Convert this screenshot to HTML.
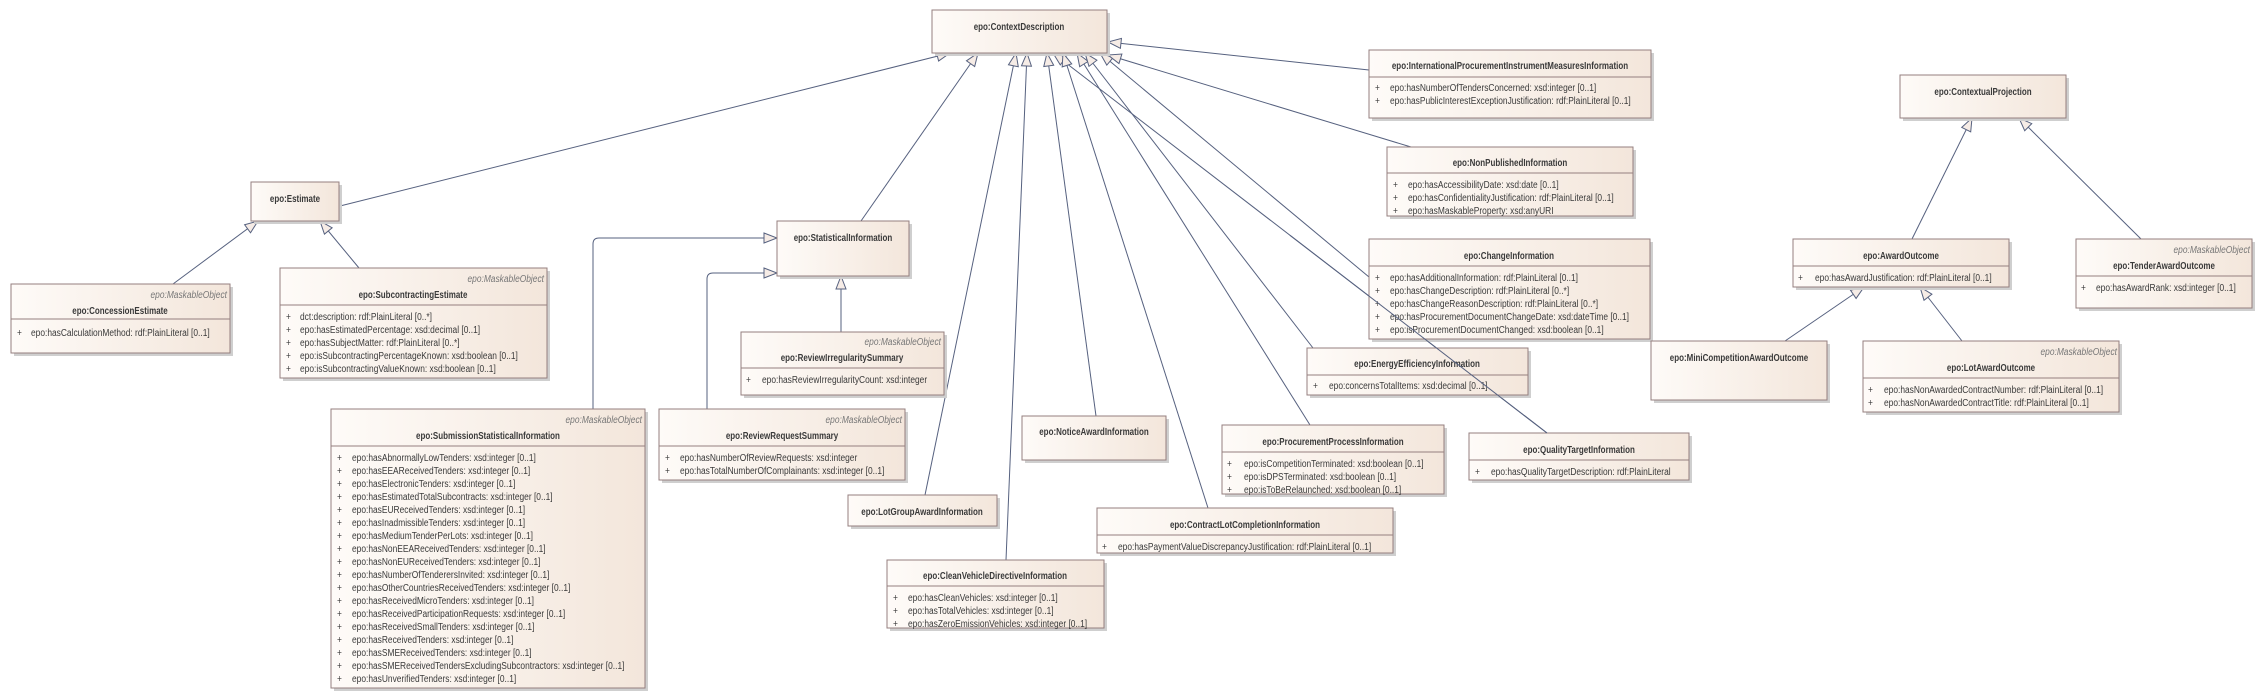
<!DOCTYPE html>
<html><head><meta charset="utf-8"><style>
html,body{margin:0;padding:0;background:#fff;}
svg{display:block;}
.n{font-family:"Liberation Sans",sans-serif;font-size:10px;font-weight:bold;fill:#3a3a3a;text-anchor:middle;}
.a{font-family:"Liberation Sans",sans-serif;font-size:10.5px;fill:#3a3a3a;}
.s{font-family:"Liberation Sans",sans-serif;font-size:10.5px;font-style:italic;fill:#777;text-anchor:end;}
.b{fill:url(#g);stroke:#957f7f;stroke-width:1;}
.sh{fill:#cfcfcf;}
.d{stroke:#957f7f;stroke-width:1;}
.l{stroke:#56617f;stroke-width:1;fill:none;marker-end:url(#t);}
</style></head><body>
<svg width="2263" height="699" viewBox="0 0 2263 699" xmlns="http://www.w3.org/2000/svg">
<defs>
<linearGradient id="g" x1="0" y1="0" x2="1" y2="0"><stop offset="0" stop-color="#fefbf8"/><stop offset="1" stop-color="#f3e6db"/></linearGradient>
<marker id="t" viewBox="0 0 15 12" refX="14" refY="6" markerWidth="15" markerHeight="12" orient="auto" markerUnits="userSpaceOnUse"><path d="M1,1 L14,6 L1,11 Z" fill="#f6ece6" stroke="#56617f"/></marker>
</defs>

<path class="l" d="M340,206 L950,53"/>
<path class="l" d="M861,221 L978,53"/>
<path class="l" d="M925,495 L1016,53"/>
<path class="l" d="M1006,560 L1027,53"/>
<path class="l" d="M1096,416 L1047,53"/>
<path class="l" d="M1547,433 L1053,53"/>
<path class="l" d="M1208,508 L1063,53"/>
<path class="l" d="M1310,425 L1077,53"/>
<path class="l" d="M1313,348 L1085,53"/>
<path class="l" d="M1369,277 L1100,53"/>
<path class="l" d="M1411,147 L1108,55"/>
<path class="l" d="M1369,70 L1108,42"/>
<path class="l" d="M593,409 V244 Q593,238 599,238 H777"/>
<path class="l" d="M707,409 V279 Q707,273 713,273 H777"/>
<path class="l" d="M841,332 L841,276"/>
<path class="l" d="M173,284 L258,221"/>
<path class="l" d="M359,268 L320,221"/>
<path class="l" d="M1912,239 L1972,118"/>
<path class="l" d="M2141,239 L2019,118"/>
<path class="l" d="M1785,341 L1864,287"/>
<path class="l" d="M1962,341 L1920,287"/>

<rect class="sh" x="935" y="13" width="175" height="43"/><rect class="b" x="932" y="10" width="175" height="43"/>
<text class="n" transform="translate(1019,30) scale(.8,1)">epo:ContextDescription</text>

<rect class="sh" x="254" y="185" width="88" height="39"/><rect class="b" x="251" y="182" width="88" height="39"/>
<text class="n" transform="translate(295,202) scale(.8,1)">epo:Estimate</text>

<rect class="sh" x="14" y="287" width="219" height="69"/><rect class="b" x="11" y="284" width="219" height="69"/>
<text class="s" transform="translate(227,298) scale(.8,1)">epo:MaskableObject</text>
<text class="n" transform="translate(120,314) scale(.8,1)">epo:ConcessionEstimate</text>
<line class="d" x1="11" y1="319" x2="230" y2="319"/>
<text class="a" transform="translate(17,336) scale(.8,1)">+</text><text class="a" transform="translate(31,336) scale(.8,1)">epo:hasCalculationMethod: rdf:PlainLiteral [0..1]</text>

<rect class="sh" x="283" y="271" width="267" height="110"/><rect class="b" x="280" y="268" width="267" height="110"/>
<text class="s" transform="translate(544,282) scale(.8,1)">epo:MaskableObject</text>
<text class="n" transform="translate(413,298) scale(.8,1)">epo:SubcontractingEstimate</text>
<line class="d" x1="280" y1="305" x2="547" y2="305"/>
<g class="a">
<text transform="translate(286,320) scale(.8,1)">+</text><text transform="translate(300,320) scale(.8,1)">dct:description: rdf:PlainLiteral [0..*]</text>
<text transform="translate(286,333) scale(.8,1)">+</text><text transform="translate(300,333) scale(.8,1)">epo:hasEstimatedPercentage: xsd:decimal [0..1]</text>
<text transform="translate(286,346) scale(.8,1)">+</text><text transform="translate(300,346) scale(.8,1)">epo:hasSubjectMatter: rdf:PlainLiteral [0..*]</text>
<text transform="translate(286,359) scale(.8,1)">+</text><text transform="translate(300,359) scale(.8,1)">epo:isSubcontractingPercentageKnown: xsd:boolean [0..1]</text>
<text transform="translate(286,372) scale(.8,1)">+</text><text transform="translate(300,372) scale(.8,1)">epo:isSubcontractingValueKnown: xsd:boolean [0..1]</text>
</g>

<rect class="sh" x="780" y="224" width="132" height="55"/><rect class="b" x="777" y="221" width="132" height="55"/>
<text class="n" transform="translate(843,241) scale(.8,1)">epo:StatisticalInformation</text>

<rect class="sh" x="744" y="335" width="203" height="63"/><rect class="b" x="741" y="332" width="203" height="63"/>
<text class="s" transform="translate(941,345) scale(.8,1)">epo:MaskableObject</text>
<text class="n" transform="translate(842,361) scale(.8,1)">epo:ReviewIrregularitySummary</text>
<line class="d" x1="741" y1="368" x2="944" y2="368"/>
<text class="a" transform="translate(746,383) scale(.8,1)">+</text><text class="a" transform="translate(762,383) scale(.8,1)">epo:hasReviewIrregularityCount: xsd:integer</text>

<rect class="sh" x="334" y="412" width="314" height="279"/><rect class="b" x="331" y="409" width="314" height="279"/>
<text class="s" transform="translate(642,423) scale(.8,1)">epo:MaskableObject</text>
<text class="n" transform="translate(488,439) scale(.8,1)">epo:SubmissionStatisticalInformation</text>
<line class="d" x1="331" y1="446" x2="645" y2="446"/>
<g class="a">
<text transform="translate(337,461) scale(.8,1)">+</text><text transform="translate(352,461) scale(.8,1)">epo:hasAbnormallyLowTenders: xsd:integer [0..1]</text>
<text transform="translate(337,474) scale(.8,1)">+</text><text transform="translate(352,474) scale(.8,1)">epo:hasEEAReceivedTenders: xsd:integer [0..1]</text>
<text transform="translate(337,487) scale(.8,1)">+</text><text transform="translate(352,487) scale(.8,1)">epo:hasElectronicTenders: xsd:integer [0..1]</text>
<text transform="translate(337,500) scale(.8,1)">+</text><text transform="translate(352,500) scale(.8,1)">epo:hasEstimatedTotalSubcontracts: xsd:integer [0..1]</text>
<text transform="translate(337,513) scale(.8,1)">+</text><text transform="translate(352,513) scale(.8,1)">epo:hasEUReceivedTenders: xsd:integer [0..1]</text>
<text transform="translate(337,526) scale(.8,1)">+</text><text transform="translate(352,526) scale(.8,1)">epo:hasInadmissibleTenders: xsd:integer [0..1]</text>
<text transform="translate(337,539) scale(.8,1)">+</text><text transform="translate(352,539) scale(.8,1)">epo:hasMediumTenderPerLots: xsd:integer [0..1]</text>
<text transform="translate(337,552) scale(.8,1)">+</text><text transform="translate(352,552) scale(.8,1)">epo:hasNonEEAReceivedTenders: xsd:integer [0..1]</text>
<text transform="translate(337,565) scale(.8,1)">+</text><text transform="translate(352,565) scale(.8,1)">epo:hasNonEUReceivedTenders: xsd:integer [0..1]</text>
<text transform="translate(337,578) scale(.8,1)">+</text><text transform="translate(352,578) scale(.8,1)">epo:hasNumberOfTenderersInvited: xsd:integer [0..1]</text>
<text transform="translate(337,591) scale(.8,1)">+</text><text transform="translate(352,591) scale(.8,1)">epo:hasOtherCountriesReceivedTenders: xsd:integer [0..1]</text>
<text transform="translate(337,604) scale(.8,1)">+</text><text transform="translate(352,604) scale(.8,1)">epo:hasReceivedMicroTenders: xsd:integer [0..1]</text>
<text transform="translate(337,617) scale(.8,1)">+</text><text transform="translate(352,617) scale(.8,1)">epo:hasReceivedParticipationRequests: xsd:integer [0..1]</text>
<text transform="translate(337,630) scale(.8,1)">+</text><text transform="translate(352,630) scale(.8,1)">epo:hasReceivedSmallTenders: xsd:integer [0..1]</text>
<text transform="translate(337,643) scale(.8,1)">+</text><text transform="translate(352,643) scale(.8,1)">epo:hasReceivedTenders: xsd:integer [0..1]</text>
<text transform="translate(337,656) scale(.8,1)">+</text><text transform="translate(352,656) scale(.8,1)">epo:hasSMEReceivedTenders: xsd:integer [0..1]</text>
<text transform="translate(337,669) scale(.8,1)">+</text><text transform="translate(352,669) scale(.8,1)">epo:hasSMEReceivedTendersExcludingSubcontractors: xsd:integer [0..1]</text>
<text transform="translate(337,682) scale(.8,1)">+</text><text transform="translate(352,682) scale(.8,1)">epo:hasUnverifiedTenders: xsd:integer [0..1]</text>
</g>

<rect class="sh" x="662" y="412" width="246" height="71"/><rect class="b" x="659" y="409" width="246" height="71"/>
<text class="s" transform="translate(902,423) scale(.8,1)">epo:MaskableObject</text>
<text class="n" transform="translate(782,439) scale(.8,1)">epo:ReviewRequestSummary</text>
<line class="d" x1="659" y1="446" x2="905" y2="446"/>
<g class="a">
<text transform="translate(665,461) scale(.8,1)">+</text><text transform="translate(680,461) scale(.8,1)">epo:hasNumberOfReviewRequests: xsd:integer</text>
<text transform="translate(665,474) scale(.8,1)">+</text><text transform="translate(680,474) scale(.8,1)">epo:hasTotalNumberOfComplainants: xsd:integer [0..1]</text>
</g>

<rect class="sh" x="851" y="498" width="149" height="31"/><rect class="b" x="848" y="495" width="149" height="31"/>
<text class="n" transform="translate(922,515) scale(.8,1)">epo:LotGroupAwardInformation</text>

<rect class="sh" x="890" y="563" width="217" height="68"/><rect class="b" x="887" y="560" width="217" height="68"/>
<text class="n" transform="translate(995,579) scale(.8,1)">epo:CleanVehicleDirectiveInformation</text>
<line class="d" x1="887" y1="586" x2="1104" y2="586"/>
<g class="a">
<text transform="translate(893,601) scale(.8,1)">+</text><text transform="translate(908,601) scale(.8,1)">epo:hasCleanVehicles: xsd:integer [0..1]</text>
<text transform="translate(893,614) scale(.8,1)">+</text><text transform="translate(908,614) scale(.8,1)">epo:hasTotalVehicles: xsd:integer [0..1]</text>
<text transform="translate(893,627) scale(.8,1)">+</text><text transform="translate(908,627) scale(.8,1)">epo:hasZeroEmissionVehicles: xsd:integer [0..1]</text>
</g>

<rect class="sh" x="1025" y="419" width="144" height="44"/><rect class="b" x="1022" y="416" width="144" height="44"/>
<text class="n" transform="translate(1094,435) scale(.8,1)">epo:NoticeAwardInformation</text>

<rect class="sh" x="1100" y="511" width="296" height="45"/><rect class="b" x="1097" y="508" width="296" height="45"/>
<text class="n" transform="translate(1245,528) scale(.8,1)">epo:ContractLotCompletionInformation</text>
<line class="d" x1="1097" y1="535" x2="1393" y2="535"/>
<text class="a" transform="translate(1102,550) scale(.8,1)">+</text><text class="a" transform="translate(1118,550) scale(.8,1)">epo:hasPaymentValueDiscrepancyJustification: rdf:PlainLiteral [0..1]</text>

<rect class="sh" x="1225" y="428" width="222" height="69"/><rect class="b" x="1222" y="425" width="222" height="69"/>
<text class="n" transform="translate(1333,445) scale(.8,1)">epo:ProcurementProcessInformation</text>
<line class="d" x1="1222" y1="452" x2="1444" y2="452"/>
<g class="a">
<text transform="translate(1227,467) scale(.8,1)">+</text><text transform="translate(1244,467) scale(.8,1)">epo:isCompetitionTerminated: xsd:boolean [0..1]</text>
<text transform="translate(1227,480) scale(.8,1)">+</text><text transform="translate(1244,480) scale(.8,1)">epo:isDPSTerminated: xsd:boolean [0..1]</text>
<text transform="translate(1227,493) scale(.8,1)">+</text><text transform="translate(1244,493) scale(.8,1)">epo:isToBeRelaunched: xsd:boolean [0..1]</text>
</g>

<rect class="sh" x="1472" y="436" width="220" height="47"/><rect class="b" x="1469" y="433" width="220" height="47"/>
<text class="n" transform="translate(1579,453) scale(.8,1)">epo:QualityTargetInformation</text>
<line class="d" x1="1469" y1="460" x2="1689" y2="460"/>
<text class="a" transform="translate(1475,475) scale(.8,1)">+</text><text class="a" transform="translate(1491,475) scale(.8,1)">epo:hasQualityTargetDescription: rdf:PlainLiteral</text>

<rect class="sh" x="1310" y="351" width="221" height="47"/><rect class="b" x="1307" y="348" width="221" height="47"/>
<text class="n" transform="translate(1417,367) scale(.8,1)">epo:EnergyEfficiencyInformation</text>
<line class="d" x1="1307" y1="375" x2="1528" y2="375"/>
<text class="a" transform="translate(1313,389) scale(.8,1)">+</text><text class="a" transform="translate(1329,389) scale(.8,1)">epo:concernsTotalItems: xsd:decimal [0..1]</text>

<rect class="sh" x="1372" y="242" width="281" height="100"/><rect class="b" x="1369" y="239" width="281" height="100"/>
<text class="n" transform="translate(1509,259) scale(.8,1)">epo:ChangeInformation</text>
<line class="d" x1="1369" y1="266" x2="1650" y2="266"/>
<g class="a">
<text transform="translate(1375,281) scale(.8,1)">+</text><text transform="translate(1390,281) scale(.8,1)">epo:hasAdditionalInformation: rdf:PlainLiteral [0..1]</text>
<text transform="translate(1375,294) scale(.8,1)">+</text><text transform="translate(1390,294) scale(.8,1)">epo:hasChangeDescription: rdf:PlainLiteral [0..*]</text>
<text transform="translate(1375,307) scale(.8,1)">+</text><text transform="translate(1390,307) scale(.8,1)">epo:hasChangeReasonDescription: rdf:PlainLiteral [0..*]</text>
<text transform="translate(1375,320) scale(.8,1)">+</text><text transform="translate(1390,320) scale(.8,1)">epo:hasProcurementDocumentChangeDate: xsd:dateTime [0..1]</text>
<text transform="translate(1375,333) scale(.8,1)">+</text><text transform="translate(1390,333) scale(.8,1)">epo:isProcurementDocumentChanged: xsd:boolean [0..1]</text>
</g>
<path d="M1547,433 L1290,235.3" stroke="#56617f" fill="none"/>

<rect class="sh" x="1390" y="150" width="246" height="69"/><rect class="b" x="1387" y="147" width="246" height="69"/>
<text class="n" transform="translate(1510,166) scale(.8,1)">epo:NonPublishedInformation</text>
<line class="d" x1="1387" y1="173" x2="1633" y2="173"/>
<g class="a">
<text transform="translate(1393,188) scale(.8,1)">+</text><text transform="translate(1408,188) scale(.8,1)">epo:hasAccessibilityDate: xsd:date [0..1]</text>
<text transform="translate(1393,201) scale(.8,1)">+</text><text transform="translate(1408,201) scale(.8,1)">epo:hasConfidentialityJustification: rdf:PlainLiteral [0..1]</text>
<text transform="translate(1393,214) scale(.8,1)">+</text><text transform="translate(1408,214) scale(.8,1)">epo:hasMaskableProperty: xsd:anyURI</text>
</g>

<rect class="sh" x="1372" y="53" width="282" height="68"/><rect class="b" x="1369" y="50" width="282" height="68"/>
<text class="n" transform="translate(1510,69) scale(.8,1)">epo:InternationalProcurementInstrumentMeasuresInformation</text>
<line class="d" x1="1369" y1="77" x2="1651" y2="77"/>
<g class="a">
<text transform="translate(1375,91) scale(.8,1)">+</text><text transform="translate(1390,91) scale(.8,1)">epo:hasNumberOfTendersConcerned: xsd:integer [0..1]</text>
<text transform="translate(1375,104) scale(.8,1)">+</text><text transform="translate(1390,104) scale(.8,1)">epo:hasPublicInterestExceptionJustification: rdf:PlainLiteral [0..1]</text>
</g>

<rect class="sh" x="1903" y="78" width="166" height="43"/><rect class="b" x="1900" y="75" width="166" height="43"/>
<text class="n" transform="translate(1983,95) scale(.8,1)">epo:ContextualProjection</text>

<rect class="sh" x="1796" y="242" width="216" height="48"/><rect class="b" x="1793" y="239" width="216" height="48"/>
<text class="n" transform="translate(1901,259) scale(.8,1)">epo:AwardOutcome</text>
<line class="d" x1="1793" y1="266" x2="2009" y2="266"/>
<text class="a" transform="translate(1798,281) scale(.8,1)">+</text><text class="a" transform="translate(1815,281) scale(.8,1)">epo:hasAwardJustification: rdf:PlainLiteral [0..1]</text>

<rect class="sh" x="2079" y="242" width="176" height="69"/><rect class="b" x="2076" y="239" width="176" height="69"/>
<text class="s" transform="translate(2250,253) scale(.8,1)">epo:MaskableObject</text>
<text class="n" transform="translate(2164,269) scale(.8,1)">epo:TenderAwardOutcome</text>
<line class="d" x1="2076" y1="276" x2="2252" y2="276"/>
<text class="a" transform="translate(2081,291) scale(.8,1)">+</text><text class="a" transform="translate(2096,291) scale(.8,1)">epo:hasAwardRank: xsd:integer [0..1]</text>

<rect class="sh" x="1654" y="344" width="176" height="59"/><rect class="b" x="1651" y="341" width="176" height="59"/>
<text class="n" transform="translate(1739,361) scale(.8,1)">epo:MiniCompetitionAwardOutcome</text>

<rect class="sh" x="1866" y="344" width="256" height="71"/><rect class="b" x="1863" y="341" width="256" height="71"/>
<text class="s" transform="translate(2117,355) scale(.8,1)">epo:MaskableObject</text>
<text class="n" transform="translate(1991,371) scale(.8,1)">epo:LotAwardOutcome</text>
<line class="d" x1="1863" y1="378" x2="2119" y2="378"/>
<g class="a">
<text transform="translate(1868,393) scale(.8,1)">+</text><text transform="translate(1884,393) scale(.8,1)">epo:hasNonAwardedContractNumber: rdf:PlainLiteral [0..1]</text>
<text transform="translate(1868,406) scale(.8,1)">+</text><text transform="translate(1884,406) scale(.8,1)">epo:hasNonAwardedContractTitle: rdf:PlainLiteral [0..1]</text>
</g>
</svg>
</body></html>
